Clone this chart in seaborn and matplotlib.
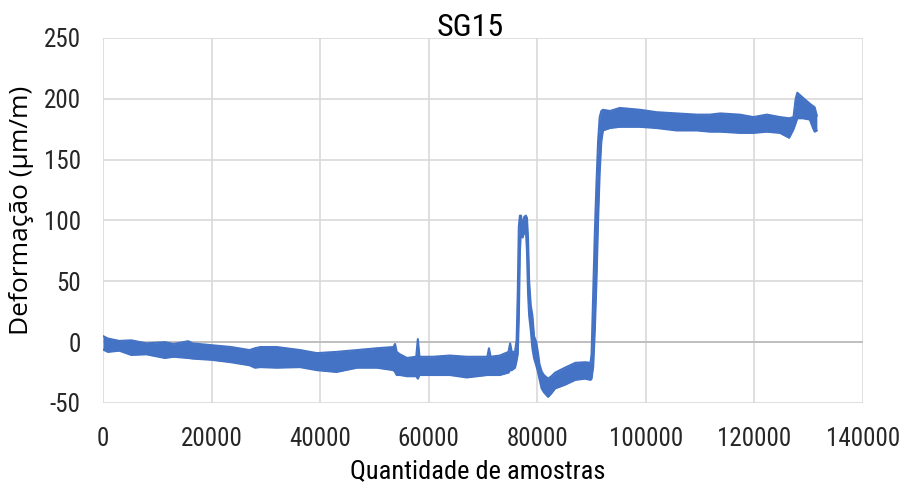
import matplotlib
matplotlib.use("Agg")
import matplotlib.pyplot as plt
from matplotlib import font_manager as fm
import seaborn as sns
import pandas as pd

# ---- data (band envelope of the noisy signal) ----
amostras = [0, 900, 3000, 5200, 8000, 11400, 13000, 15700, 16500, 20000,
            23600, 27000, 28000, 29000, 32000, 36300, 39400, 43000, 46800, 50500,
            53500, 53800, 54100, 54700, 56000, 57700, 58000, 58300, 60800, 63900,
            67000, 70800, 71100, 71400, 73100, 74700, 75000, 75300, 75900, 76200,
            76400, 76600, 76800, 77000, 77300, 77600, 77900, 78100, 78300, 78500,
            78800, 79100, 79400, 79800, 80100, 80400, 80800, 81200, 82000, 82600,
            83300, 85100, 87000, 88800, 89800, 90000, 90300, 90600, 90900, 91200,
            91500, 91800, 92100, 93400, 95200, 98900, 102000, 105700, 109400, 111800,
            113700, 117300, 119800, 122300, 124700, 126400, 127200, 127600, 127900, 128900,
            130200, 130800, 131100, 131500]
inferior = [-6, -8, -7, -10.5, -10, -13, -12, -13, -13.5, -14.5,
            -16.5, -19, -21, -20.5, -21, -20.5, -23, -24.5, -21, -21,
            -23, -24.5, -27, -27, -28, -28, -30, -27, -27, -27,
            -29, -27, -27, -27, -27, -25, -23, -23, -21, -15,
            -10, 20, 75, 92, 86, 90, 92, 75, 40, 22,
            10, -5, -13, -19, -24, -30, -38, -41, -45, -42,
            -38, -35, -31, -30, -31, -30, -20, 10, 50, 100,
            140, 165, 174, 176, 177, 177, 176, 174, 174, 173,
            173, 172, 172, 173, 172, 168, 175, 180, 184, 184,
            183, 176, 173, 174]
superior = [5, 3, 1, 1.5, -1, 0, -1.5, 0.8, -1, -2.5,
            -4, -6.5, -5, -4, -4, -6.5, -9, -8, -6.5, -5,
            -4, -1.5, -8, -10, -13, -12, 2.5, -12, -12, -11,
            -12, -12, -5, -12, -11, -8, -1, -8, -8, 2,
            40, 95, 104, 104, 95, 103, 104, 102, 85, 50,
            30, 22, 5, 0, -8, -18, -24, -27, -30, -28,
            -25, -21, -17, -16.5, -17, -10, 40, 90, 130, 165,
            185, 190, 191, 190, 192.5, 191, 189, 188, 187, 187,
            188, 187, 185, 187, 185, 184, 185, 200, 205, 201,
            196, 194, 193, 186]

titulo = "SG15"
xlabel = "Quantidade de amostras"
ylabel = "Deformação (µm/m)"
xticks = [0, 20000, 40000, 60000, 80000, 100000, 120000, 140000]
yticks = [-50, 0, 50, 100, 150, 200, 250]

df = pd.DataFrame({"amostras": amostras, "inferior": inferior, "superior": superior})

sns.set_theme(style="white")

names = {f.name for f in fm.fontManager.ttflist}
def pick(prefs):
    for n in prefs:
        if n in names:
            return n
    return "DejaVu Sans"

narrow = [pick(["Roboto Condensed", "Archivo Narrow", "PT Sans Narrow",
                "Fira Sans Condensed", "IBM Plex Sans Condensed", "Open Sans Condensed",
                "Carlito"]), "DejaVu Sans"]
wide = [pick(["Selawik", "Segoe UI", "Open Sans", "Noto Sans"]), "DejaVu Sans"]
cor = "#4472C4"

fig = plt.figure(figsize=(9.02, 4.83), dpi=100)
ax = fig.add_axes([103 / 902, 1 - 403 / 483, 760 / 902, 365 / 483])

ax.fill_between(df["amostras"], df["inferior"], df["superior"], color=cor, lw=0, zorder=3)
sns.lineplot(data=df, x="amostras", y="inferior", ax=ax, color=cor, lw=1.5,
             estimator=None, sort=False, zorder=3)
sns.lineplot(data=df, x="amostras", y="superior", ax=ax, color=cor, lw=1.5,
             estimator=None, sort=False, zorder=3)

ax.set_xlim(0, 140000)
ax.set_ylim(-50, 250)
ax.set_xticks(xticks)
ax.set_yticks(yticks)
ax.set_xticklabels([str(t) for t in xticks], fontsize=18, family=narrow, color="#262626")
ax.set_yticklabels([str(t) for t in yticks], fontsize=18, family=narrow, color="#262626")
ax.tick_params(axis="x", length=0, pad=17)
ax.tick_params(axis="y", length=0, pad=16)
ax.grid(True, color="#d9d9d9", lw=1.2, zorder=0)
ax.axhline(0, color="#bfbfbf", lw=1.4, zorder=1)
for s in ax.spines.values():
    s.set_visible(False)
ax.set_xlabel("")
ax.set_ylabel("")

fig.text(470 / 902, 1 - 27 / 483, titulo, ha="center", va="center",
         fontsize=23, family=narrow, color="#000000")
fig.text(478 / 902, 1 - 471 / 483, xlabel, ha="center", va="center",
         fontsize=19, family=narrow, color="#000000")
fig.text(22 / 902, 1 - 210 / 483, ylabel, ha="center", va="center", rotation=90,
         fontsize=19, family=wide, color="#000000")

fig.savefig("out.png", dpi=100)
